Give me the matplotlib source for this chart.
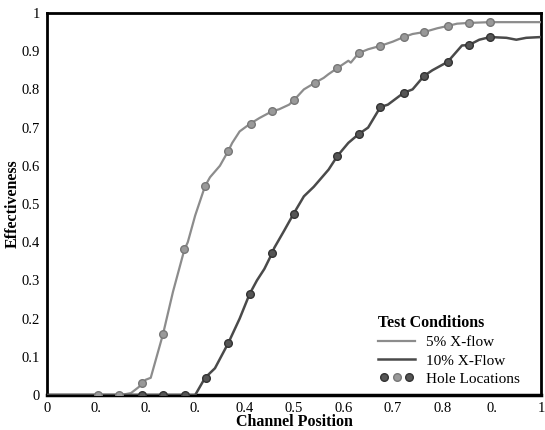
import numpy as np
import matplotlib
matplotlib.use('Agg')
import matplotlib.pyplot as plt
from matplotlib.lines import Line2D
from matplotlib.legend_handler import HandlerTuple

plt.rcParams['font.family'] = ['Liberation Serif', 'DejaVu Serif']

# 5% X-flow curve (light)
x_light = [0.0, 0.10, 0.15, 0.17, 0.185, 0.193, 0.20, 0.21, 0.235, 0.255, 0.278, 0.285, 0.30, 0.32,
           0.33, 0.35, 0.367, 0.375, 0.39, 0.41, 0.43, 0.456, 0.47, 0.49, 0.50, 0.52, 0.542, 0.56,
           0.57, 0.588, 0.61, 0.615, 0.631, 0.65, 0.675, 0.70, 0.722, 0.74, 0.763, 0.79, 0.811,
           0.83, 0.854, 0.897, 1.0]
y_light = [0.0, 0.0, 0.0, 0.005, 0.02, 0.03, 0.04, 0.045, 0.16, 0.27, 0.38, 0.40, 0.47, 0.547,
           0.57, 0.60, 0.639, 0.66, 0.69, 0.709, 0.725, 0.743, 0.748, 0.76, 0.772, 0.80, 0.817, 0.83,
           0.84, 0.856, 0.875, 0.87, 0.895, 0.905, 0.914, 0.925, 0.937, 0.945, 0.95, 0.96, 0.966,
           0.972, 0.974, 0.976, 0.976]

# 10% X-Flow curve (dark)
x_dark = [0.0, 0.20, 0.30, 0.32, 0.34, 0.367, 0.39, 0.41, 0.425, 0.44, 0.456, 0.46, 0.48, 0.499,
          0.52, 0.54, 0.55, 0.57, 0.588, 0.61, 0.631, 0.65, 0.675, 0.69, 0.722, 0.74, 0.763, 0.78,
          0.811, 0.84, 0.854, 0.875, 0.897, 0.93, 0.95, 0.97, 1.0]
y_dark = [0.0, 0.0, 0.0, 0.045, 0.07, 0.136, 0.20, 0.264, 0.30, 0.33, 0.372, 0.385, 0.43, 0.474,
          0.52, 0.545, 0.56, 0.59, 0.626, 0.66, 0.683, 0.70, 0.754, 0.76, 0.791, 0.80, 0.835, 0.85,
          0.872, 0.915, 0.916, 0.93, 0.937, 0.935, 0.93, 0.935, 0.937]

# hole locations
hx_light = [0.103, 0.146, 0.193, 0.235, 0.278, 0.320, 0.367, 0.412, 0.456, 0.499, 0.542, 0.588,
            0.631, 0.675, 0.722, 0.763, 0.811, 0.854, 0.897]
hy_light = [0.0, 0.0, 0.031, 0.160, 0.382, 0.547, 0.639, 0.709, 0.743, 0.772, 0.817, 0.856,
            0.895, 0.914, 0.937, 0.950, 0.966, 0.974, 0.976]
hx_dark = [0.193, 0.235, 0.280, 0.322, 0.367, 0.410, 0.456, 0.499, 0.588, 0.631, 0.675, 0.722,
           0.763, 0.811, 0.854, 0.897]
hy_dark = [0.0, 0.0, 0.0, 0.045, 0.136, 0.264, 0.372, 0.474, 0.626, 0.683, 0.754, 0.791,
           0.835, 0.872, 0.916, 0.937]

xticks = [0, 0.1, 0.2, 0.3, 0.4, 0.5, 0.6, 0.7, 0.8, 0.9, 1.0]
xticklabels = ['0', '0.', '0.', '0.', '0.4', '0.5', '0.6', '0.7', '0.8', '0.', '1']
yticks = [0, 0.1, 0.2, 0.3, 0.4, 0.5, 0.6, 0.7, 0.8, 0.9, 1.0]
yticklabels = ['0', '0.1', '0.2', '0.3', '0.4', '0.5', '0.6', '0.7', '0.8', '0.9', '1']

light = '#8c8c8c'
dark = '#4a4a4a'

fig = plt.figure(figsize=(5.45, 4.3), dpi=100)
ax = fig.add_axes([0.0862, 0.0814, 0.9065, 0.8884])

ax.plot(x_light, y_light, color=light, lw=1.6, zorder=3)
ax.plot(x_dark, y_dark, color=dark, lw=1.8, zorder=3)
ax.plot(hx_dark, hy_dark, 'o', ms=5.5, mfc='#555555', mec='#333333', mew=1.0, zorder=4)
ax.plot(hx_light, hy_light, 'o', ms=5.5, mfc='#999999', mec='#777777', mew=1.0, zorder=5)

ax.set_xlim(0, 1)
ax.set_ylim(0, 1)
ax.set_xticks(xticks)
ax.set_xticklabels(xticklabels)
ax.set_yticks(yticks)
ax.set_yticklabels(yticklabels)
ax.tick_params(length=0, labelsize=10.5, pad=5)
for s in ax.spines.values():
    s.set_linewidth(2)
ax.spines['bottom'].set_linewidth(2.5)

ax.set_xlabel('Channel Position', fontsize=11.5, fontweight='bold', labelpad=-1)
ax.set_ylabel('Effectiveness', fontsize=11.5, fontweight='bold', labelpad=1)

h1 = Line2D([], [], color=light, lw=1.6)
h2 = Line2D([], [], color=dark, lw=1.8)
m1 = Line2D([], [], ls='none', marker='o', ms=5.5, mfc='#555555', mec='#333333')
m2 = Line2D([], [], ls='none', marker='o', ms=5.5, mfc='#999999', mec='#777777')
m3 = Line2D([], [], ls='none', marker='o', ms=5.5, mfc='#555555', mec='#333333')
leg = ax.legend([h1, h2, (m1, m2, m3)], ['5% X-flow', '10% X-Flow', 'Hole Locations'],
                handler_map={tuple: HandlerTuple(ndivide=None, pad=0.05)},
                title='Test Conditions', loc='lower right', bbox_to_anchor=(0.975, 0.0),
                frameon=False, fontsize=11, handlelength=2.4, handletextpad=0.7,
                labelspacing=0.3, borderaxespad=0.2, alignment='left')
leg.get_title().set_fontweight('bold')
leg.get_title().set_fontsize(11.5)

fig.savefig('out.png', dpi=100)
